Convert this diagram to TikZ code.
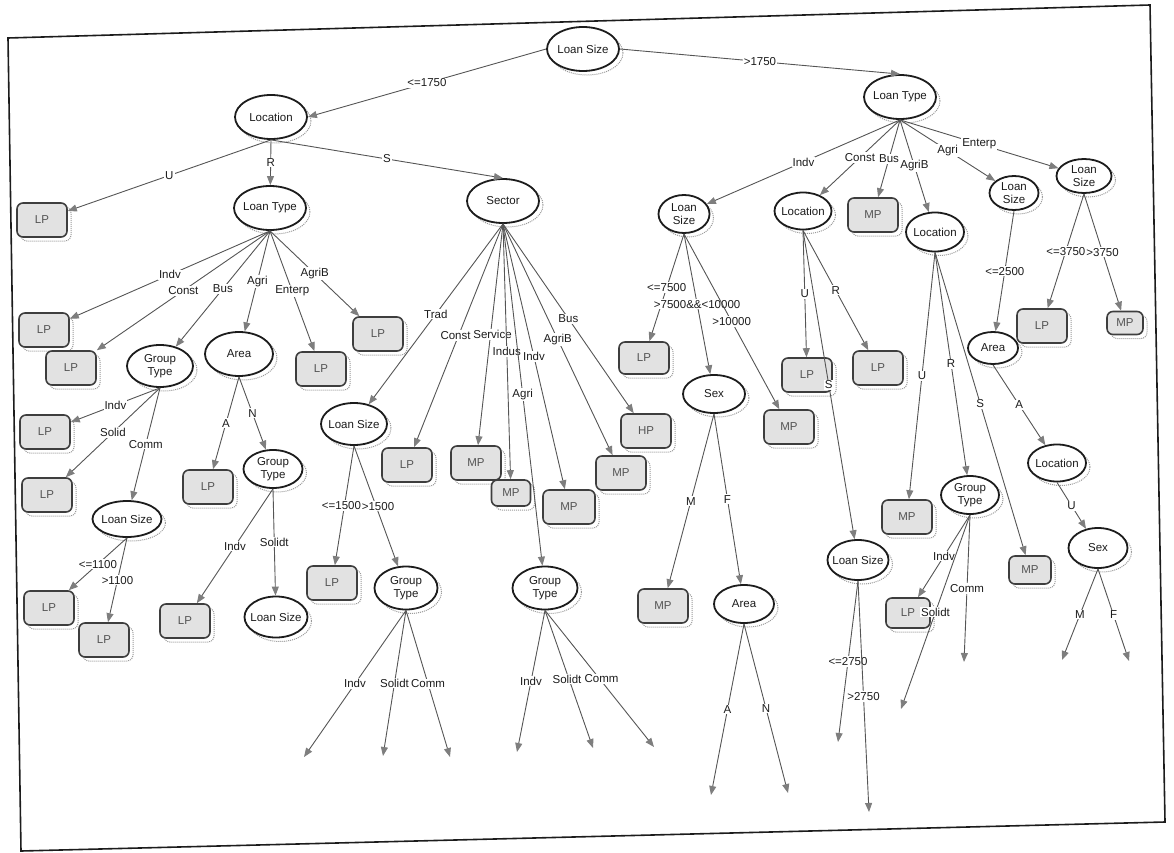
\documentclass[tikz,border=0pt]{standalone}
\usepackage{fontspec}
\setmainfont{Liberation Sans}
\usetikzlibrary{arrows.meta,shapes.geometric,shadows}
\definecolor{ink}{HTML}{1C1C1C}
\definecolor{edgegray}{HTML}{555555}
\definecolor{tipgray}{HTML}{7E7E7E}
\definecolor{leaffill}{HTML}{E2E2E2}
\definecolor{dotsgray}{HTML}{9A9A9A}

\begin{document}
\begin{tikzpicture}[x=1pt,y=-1pt,
  font=\fontsize{11.5}{13.5}\selectfont,
  test/.style={ellipse,draw=ink,line width=1.8pt,fill=white,inner sep=-4pt,
    minimum width=62pt,minimum height=40pt,align=center,text=ink,
    drop shadow={shadow xshift=4pt,shadow yshift=-4pt,fill=none,draw=dotsgray,
      densely dotted,line width=1pt,opacity=1}},
  big/.style={minimum width=72pt,minimum height=44pt},
  leaf/.style={draw=ink!85,line width=1.6pt,fill=leaffill,rounded corners=6pt,
    minimum width=50pt,minimum height=34pt,text=ink!75,
    drop shadow={shadow xshift=4pt,shadow yshift=-4pt,fill=none,draw=dotsgray,
      densely dotted,line width=1pt,opacity=1}},
  arrow/.style={draw=edgegray,line width=.9pt,
    -{Triangle[length=9pt,width=7pt,color=tipgray]}},
  lab/.style={midway,fill=white,inner sep=1pt,text=ink}
]
\useasboundingbox (0,0) rectangle (1174,853);
\draw[ink,line width=1.6pt] (8,38) -- (1150,5) -- (1165,822) -- (21,851) -- cycle;

% first split and the rural/urban side
\node[test,big] (size0) at (583,49) {Loan Size};
\node[test,big] (loc1) at (271,117) {Location};
\node[leaf] (lp1) at (42,220) {LP};
\node[test,big] (type1) at (270,208) {Loan Type};
\node[test,big] (sector) at (503,201) {Sector};
\node[test,big] (type2) at (900,97) {Loan Type};

\node[leaf] (lp2) at (44,330) {LP};
\node[leaf] (lp3) at (71,368) {LP};
\node[test,minimum width=66pt,minimum height=42pt] (grp1) at (160,366) {Group\\Type};
\node[test,minimum width=68pt,minimum height=44pt] (area1) at (239,354) {Area};
\node[leaf] (lp4) at (321,369) {LP};
\node[leaf] (lp5) at (378,334) {LP};
\node[leaf] (lp6) at (45,432) {LP};
\node[leaf] (lp7) at (47,495) {LP};
\node[test,minimum width=69pt,minimum height=36pt] (size1) at (127,519) {Loan Size};
\node[leaf] (lp8) at (49,608) {LP};
\node[leaf] (lp9) at (104,640) {LP};
\node[leaf] (lp10) at (208,487) {LP};
\node[test,minimum width=59pt,minimum height=38pt] (grp2) at (273,469) {Group\\Type};
\node[leaf] (lp11) at (185,621) {LP};
\node[test,minimum width=63pt,minimum height=41pt] (size2) at (276,617) {Loan Size};

% sector branch
\node[test,minimum width=66pt,minimum height=42pt] (size3) at (354,424) {Loan Size};
\node[leaf] (lp12) at (407,465) {LP};
\node[leaf] (mp1) at (476,463) {MP};
\node[leaf,minimum width=39pt,minimum height=26pt] (mp2) at (511,493) {MP};
\node[leaf,minimum width=52pt] (mp3) at (569,507) {MP};
\node[leaf] (mp4) at (621,473) {MP};
\node[leaf] (hp1) at (646,431) {HP};
\node[test,minimum width=65pt,minimum height=43pt] (grp3) at (545,588) {Group\\Type};
\node[leaf] (lp13) at (332,583) {LP};
\node[test,minimum width=63pt,minimum height=43pt] (grp4) at (406,588) {Group\\Type};
\coordinate (g4i) at (304,757);
\coordinate (g4s) at (383,756);
\coordinate (g4c) at (450,757);
\coordinate (g3i) at (517,752);
\coordinate (g3s) at (593,748);
\coordinate (g3c) at (654,747);

% loans above 1750
\node[test,minimum width=51pt,minimum height=38pt] (size4) at (684,214) {Loan\\Size};
\node[test,minimum width=57pt,minimum height=37pt] (loc2) at (803,211) {Location};
\node[leaf] (mp5) at (873,215) {MP};
\node[test,minimum width=58pt,minimum height=39pt] (loc3) at (935,232) {Location};
\node[test,minimum width=49pt,minimum height=34pt] (size5) at (1014,193) {Loan\\Size};
\node[test,minimum width=55pt,minimum height=34pt] (size6) at (1084,176) {Loan\\Size};
\node[leaf,minimum height=32pt] (lp14) at (644,358) {LP};
\node[test,minimum width=62pt,minimum height=38pt] (sex1) at (714,394) {Sex};
\node[leaf] (mp6) at (789,427) {MP};
\node[leaf] (mp7) at (663,606) {MP};
\node[test,minimum width=60pt,minimum height=38pt] (area2) at (744,604) {Area};
\node[leaf] (lp15) at (807,375) {LP};
\node[leaf] (lp16) at (878,368) {LP};
\node[test,minimum width=61pt,minimum height=40pt] (size7) at (858,560) {Loan Size};
\node[leaf] (mp8) at (907,517) {MP};
\node[test,minimum width=58pt,minimum height=38pt] (grp5) at (970,495) {Group\\Type};
\node[leaf,minimum width=42pt,minimum height=28pt] (mp9) at (1030,570) {MP};
\node[leaf,minimum width=44pt,minimum height=30pt] (lp17) at (908,613) {LP};
\node[test,minimum width=50pt,minimum height=32pt] (area3) at (993,348) {Area};
\node[test,minimum width=58pt,minimum height=37pt] (loc4) at (1057,463) {Location};
\node[test,minimum width=59pt,minimum height=40pt] (sex2) at (1098,548) {Sex};
\node[leaf] (lp18) at (1042,326) {LP};
\node[leaf,minimum width=36pt,minimum height=23pt] (mp10) at (1125,323) {MP};
\coordinate (a2a) at (711,795);
\coordinate (a2n) at (788,793);
\coordinate (s7lo) at (838,742);
\coordinate (s7hi) at (869,812);
\coordinate (g5s) at (901,709);
\coordinate (g5c) at (964,662);
\coordinate (x2m) at (1062,660);
\coordinate (x2f) at (1129,661);

% connectors
\draw[arrow] (size0.west) -- node[lab]{<=1750} (loc1.east);
\draw[arrow] (size0.east) -- node[lab]{>1750} (type2.north);

\draw[arrow] (loc1.south) -- node[lab]{U} (lp1);
\draw[arrow] (loc1.south) -- node[lab]{R} (type1);
\draw[arrow] (loc1.south) -- node[lab]{S} (sector.north);

\draw[arrow] (type1.south) -- node[lab]{Indv} (lp2);
\draw[arrow] (type1.south) -- node[lab]{Const} (lp3);
\draw[arrow] (type1.south) -- node[lab]{Bus} (grp1);
\draw[arrow] (type1.south) -- node[lab]{Agri} (area1);
\draw[arrow] (type1.south) -- node[lab]{Enterp} (lp4);
\draw[arrow] (type1.south) -- node[lab]{AgriB} (lp5);

\draw[arrow] (grp1.south) -- node[lab]{Indv} (lp6);
\draw[arrow] (grp1.south) -- node[lab]{Solid} (lp7);
\draw[arrow] (grp1.south) -- node[lab]{Comm} (size1);
\draw[arrow] (size1.south) -- node[lab]{<=1100} (lp8);
\draw[arrow] (size1.south) -- node[lab]{>1100} (lp9);
\draw[arrow] (area1.south) -- node[lab]{A} (lp10);
\draw[arrow] (area1.south) -- node[lab]{N} (grp2);
\draw[arrow] (grp2.south) -- node[lab]{Indv} (lp11);
\draw[arrow] (grp2.south) -- node[lab]{Solidt} (size2);

\draw[arrow] (sector.south) -- node[lab]{Trad} (size3);
\draw[arrow] (sector.south) -- node[lab,xshift=-3pt]{Const} (lp12);
\draw[arrow] (sector.south) -- node[lab,xshift=2pt]{Service} (mp1);
\draw[arrow] (sector.south) -- node[lab]{Indus} (mp2);
\draw[arrow] (sector.south) -- node[lab]{Agri} (grp3);
\draw[arrow] (sector.south) -- node[lab]{Indv} (mp3);
\draw[arrow] (sector.south) -- node[lab]{AgriB} (mp4);
\draw[arrow] (sector.south) -- node[lab]{Bus} (hp1);

\draw[arrow] (size3.south) -- node[lab,xshift=-3pt]{<=1500} (lp13);
\draw[arrow] (size3.south) -- node[lab,xshift=2pt]{>1500} (grp4);
\draw[arrow] (grp4.south) -- node[lab]{Indv} (g4i);
\draw[arrow] (grp4.south) -- node[lab]{Solidt} (g4s);
\draw[arrow] (grp4.south) -- node[lab]{Comm} (g4c);
\draw[arrow] (grp3.south) -- node[lab]{Indv} (g3i);
\draw[arrow] (grp3.south) -- node[lab,xshift=-2pt]{Solidt} (g3s);
\draw[arrow] (grp3.south) -- node[lab,xshift=2pt]{Comm} (g3c);

\draw[arrow] (type2.south) -- node[lab]{Indv} (size4);
\draw[arrow] (type2.south) -- node[lab]{Const} (loc2);
\draw[arrow] (type2.south) -- node[lab]{Bus} (mp5);
\draw[arrow] (type2.south) -- node[lab]{AgriB} (loc3);
\draw[arrow] (type2.south) -- node[lab]{Agri} (size5);
\draw[arrow] (type2.south) -- node[lab]{Enterp} (size6);

\draw[arrow] (size4.south) -- node[lab]{<=7500} (lp14);
\draw[arrow] (size4.south) -- node[lab]{>7500\&\&<10000} (sex1);
\draw[arrow] (size4.south) -- node[lab]{>10000} (mp6);
\draw[arrow] (sex1.south) -- node[lab]{M} (mp7);
\draw[arrow] (sex1.south) -- node[lab]{F} (area2);
\draw[arrow] (area2.south) -- node[lab]{A} (a2a);
\draw[arrow] (area2.south) -- node[lab]{N} (a2n);

\draw[arrow] (loc2.south) -- node[lab]{U} (lp15);
\draw[arrow] (loc2.south) -- node[lab]{R} (lp16);
\draw[arrow] (loc2.south) -- node[lab]{S} (size7);
\draw[arrow] (size7.south) -- node[lab]{<=2750} (s7lo);
\draw[arrow] (size7.south) -- node[lab]{>2750} (s7hi);

\draw[arrow] (loc3.south) -- node[lab]{U} (mp8);
\draw[arrow] (loc3.south) -- node[lab]{R} (grp5);
\draw[arrow] (loc3.south) -- node[lab]{S} (mp9);
\draw[arrow] (grp5.south) -- node[lab]{Indv} (lp17);
\draw[arrow] (grp5.south) -- node[lab]{Solidt} (g5s);
\draw[arrow] (grp5.south) -- node[lab]{Comm} (g5c);

\draw[arrow] (size5.south) -- node[lab]{<=2500} (area3);
\draw[arrow] (area3.south) -- node[lab]{A} (loc4);
\draw[arrow] (loc4.south) -- node[lab]{U} (sex2);
\draw[arrow] (sex2.south) -- node[lab]{M} (x2m);
\draw[arrow] (sex2.south) -- node[lab]{F} (x2f);

\draw[arrow] (size6.south) -- node[lab]{<=3750} (lp18);
\draw[arrow] (size6.south) -- node[lab]{>3750} (mp10);
\end{tikzpicture}
\end{document}
